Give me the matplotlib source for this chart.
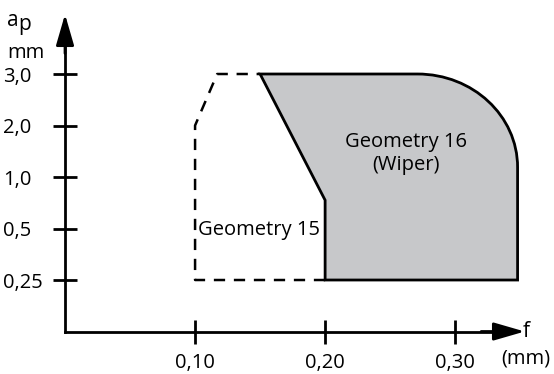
import numpy as np
import matplotlib
matplotlib.use("Agg")
import matplotlib.pyplot as plt
from matplotlib.path import Path
from matplotlib.patches import PathPatch

plt.rcParams['font.family'] = ['Open Sans', 'DejaVu Sans']

# depth levels are drawn on an even spacing (not linear in mm)
ap_labels = ['0,25', '0,5', '1,0', '2,0', '3,0']
ap_levels = [1, 2, 3, 4, 5]
f_ticks = [0.10, 0.20, 0.30]
f_labels = ['0,10', '0,20', '0,30']

# Geometry 15 (dashed outline), feed f in mm, depth as level
g15_f = [0.200, 0.100, 0.100, 0.117, 0.150]
g15_ap = [1.0, 1.0, 4.0, 5.0, 5.0]

# Geometry 16 (wiper), straight part of the outline
g16_f = [0.150, 0.200, 0.200, 0.348, 0.348]
g16_ap = [5.0, 2.55, 1.0, 1.0, 3.19]
# rounded corner at the top right
corner_f = 0.271
corner_ap = 3.19

fig = plt.figure(figsize=(5.54, 3.74), dpi=100)
ax = fig.add_axes([0, 0, 1, 1])
ax.set_xlim(-0.05, 0.376)
ax.set_ylim(-0.825, 6.437)

# outline of geometry 16 with a cubic bezier for the round corner
k = 0.5523
rx = g16_f[-1] - corner_f
ry = g16_ap[0] - corner_ap
verts = list(zip(g16_f, g16_ap))
verts += [(g16_f[-1], corner_ap + k * ry), (corner_f + k * rx, g16_ap[0]), (corner_f, g16_ap[0])]
verts += [(g16_f[0], g16_ap[0])]
codes = [Path.MOVETO] + [Path.LINETO] * (len(g16_f) - 1) + [Path.CURVE4] * 3 + [Path.CLOSEPOLY]
ax.add_patch(PathPatch(Path(verts, codes), facecolor='#c7c8ca', edgecolor='black', lw=2, zorder=2))

ax.plot(g15_f, g15_ap, color='black', lw=1.8, ls=(0, (4.5, 3.5)), zorder=1)

ax.text(0.262, 3.45, 'Geometry 16\n(Wiper)', ha='center', va='center', fontsize=14.5, linespacing=1.2)
ax.text(0.1025, 1.97, 'Geometry 15', ha='left', va='center', fontsize=14.5)

# axes through origin with arrows
for side in ['top', 'right']:
    ax.spines[side].set_visible(False)
ax.spines['left'].set_position(('data', 0))
ax.spines['bottom'].set_position(('data', 0))
ax.spines['left'].set_bounds(0, 5.6)
ax.spines['bottom'].set_bounds(0, 0.33)
ax.spines['left'].set_linewidth(2)
ax.spines['bottom'].set_linewidth(2)
arrow = dict(arrowstyle='-|>,head_length=1.9,head_width=0.55', color='black', lw=2,
             mutation_scale=10, shrinkA=0, shrinkB=0)
ax.annotate('', xy=(0, 6.16), xytext=(0, 5.4), arrowprops=arrow)
ax.annotate('', xy=(0.3535, 0), xytext=(0.32, 0), arrowprops=arrow)

ax.set_yticks(ap_levels)
ax.set_yticklabels(ap_labels, ha='left')
ax.set_xticks(f_ticks)
ax.set_xticklabels(f_labels)
ax.tick_params(axis='both', direction='inout', length=17, width=2, labelsize=14.5)
ax.tick_params(axis='y', pad=36)
ax.tick_params(axis='x', pad=7)

ax.text(0.352, 0, 'f', ha='left', va='center', fontsize=15)
ax.text(0.354, -0.52, '(mm)', ha='center', va='center', fontsize=14.5)
ax.text(-0.0446, 5.93, 'a', ha='left', va='baseline', fontsize=15)
ax.text(-0.0362, 5.85, 'p', ha='left', va='baseline', fontsize=15)
ax.text(-0.0446, 5.32, 'mm', ha='left', va='baseline', fontsize=14.5)

fig.savefig('out.png', dpi=100)
